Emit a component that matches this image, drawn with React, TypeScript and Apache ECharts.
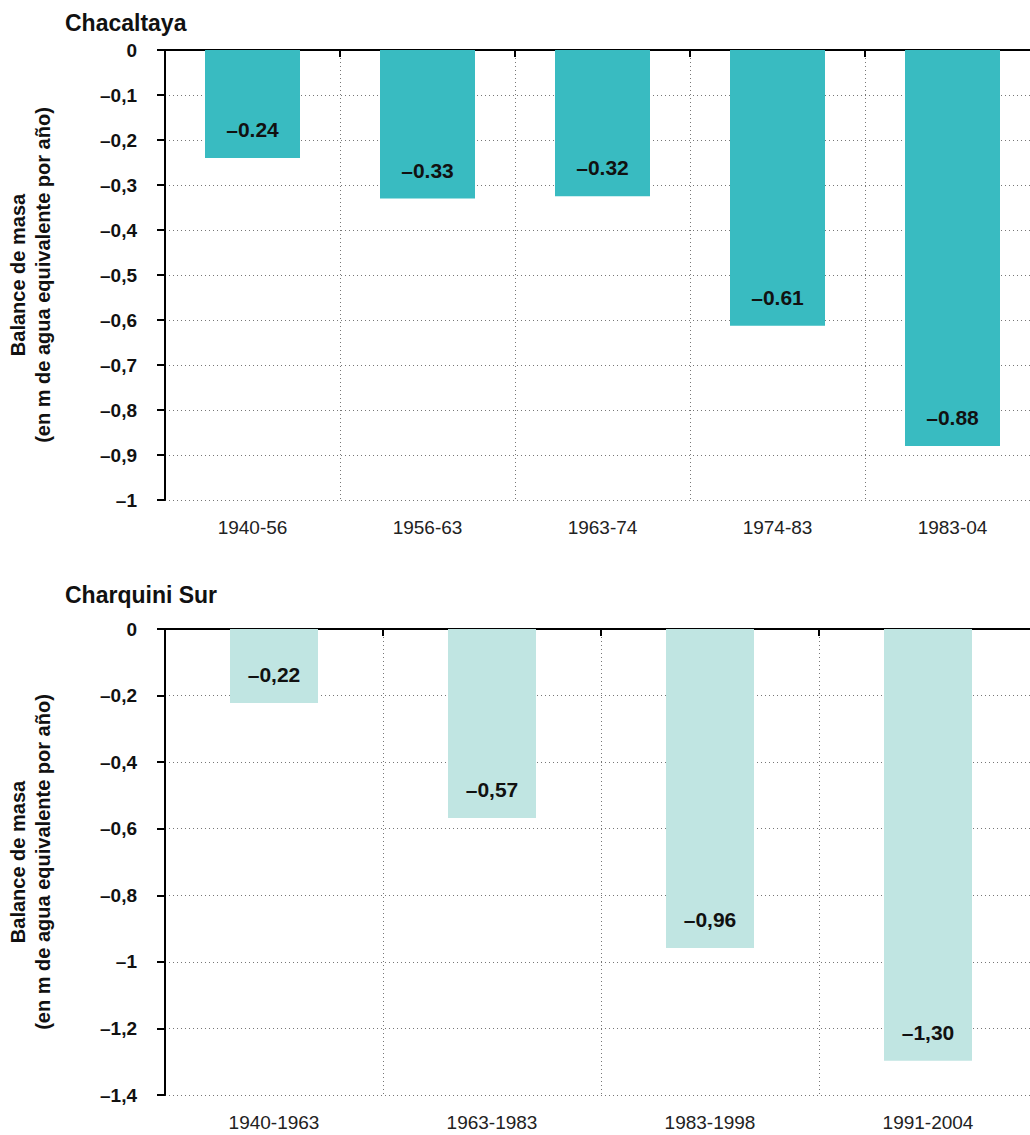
import React, { useEffect, useRef } from "react";
import * as echarts from "echarts";

const topTitle = "Chacaltaya";
const topCategories = ["1940-56", "1956-63", "1963-74", "1974-83", "1983-04"];
const topValues = [-0.24, -0.33, -0.325, -0.613, -0.88];
const topLabels = ["–0.24", "–0.33", "–0.32", "–0.61", "–0.88"];

const bottomTitle = "Charquini Sur";
const bottomCategories = ["1940-1963", "1963-1983", "1983-1998", "1991-2004"];
const bottomValues = [-0.222, -0.568, -0.958, -1.297];
const bottomLabels = ["–0,22", "–0,57", "–0,96", "–1,30"];

const yAxisName = "Balance de masa\n(en m de agua equivalente por año)";

const FONT = "'Liberation Sans', Arial, sans-serif";

function yFmt(v: number) {
  const r = Number(v.toFixed(1));
  if (r === 0) return "0";
  return "–" + String(Math.abs(r)).replace(".", ",");
}

export default function App() {
  const ref = useRef<HTMLDivElement>(null);
  useEffect(() => {
    if (!ref.current) return;
    const chart = echarts.init(ref.current, null, { renderer: "svg" });
    const dotted = { color: "#777", width: 1, type: [1, 3] as any };
    const mkY = (gridIndex: number, min: number, interval: number) => ({
      type: "value",
      gridIndex,
      min,
      max: 0,
      interval,
      name: yAxisName,
      nameLocation: "middle",
      nameGap: 110,
      nameRotate: 90,
      nameTextStyle: { fontFamily: FONT, fontWeight: "bold", fontSize: 20, color: "#111", lineHeight: 25 },
      axisLine: { show: true, lineStyle: { color: "#000", width: 2 } },
      axisTick: { show: true, length: 8, lineStyle: { color: "#000", width: 2 } },
      axisLabel: { margin: 28, fontFamily: FONT, fontWeight: "bold", fontSize: 19, color: "#111", formatter: yFmt },
      splitLine: { show: true, lineStyle: dotted },
    });
    const mkXBottom = (gridIndex: number, data: string[]) => ({
      type: "category",
      gridIndex,
      data,
      position: "bottom",
      axisLine: { show: true, lineStyle: { color: "#000", width: 2 } },
      axisTick: { show: false },
      axisLabel: { margin: 18, fontFamily: FONT, fontSize: 19, color: "#222" },
      splitLine: { show: true, lineStyle: dotted },
    });
    const mkXTop = (gridIndex: number, data: string[]) => ({
      type: "category",
      gridIndex,
      data,
      position: "top",
      axisLine: { show: true, lineStyle: { color: "#000", width: 2 } },
      axisTick: { show: true, inside: true, length: 7, lineStyle: { color: "#000", width: 2 } },
      axisLabel: { show: false },
      splitLine: { show: false },
    });
    const labelStyle = (labels: string[]) => ({
      show: true,
      position: "insideBottom",
      distance: 18,
      fontFamily: FONT,
      fontWeight: "bold",
      fontSize: 21,
      color: "#111",
      formatter: (p: any) => labels[p.dataIndex],
    });
    chart.setOption({
      animation: false,
      backgroundColor: "#fff",
      title: [
        { text: topTitle, left: 60, top: 6, textStyle: { fontFamily: FONT, fontWeight: "bold", fontSize: 23, color: "#111" } },
        { text: bottomTitle, left: 60, top: 578, textStyle: { fontFamily: FONT, fontWeight: "bold", fontSize: 23, color: "#111" } },
      ],
      grid: [
        { left: 165, top: 50, height: 450, right: -10, outerBoundsMode: "none", containLabel: false },
        { left: 165, top: 629, height: 466, right: -7, outerBoundsMode: "none", containLabel: false },
      ],
      xAxis: [
        mkXBottom(0, topCategories),
        mkXTop(0, topCategories),
        mkXBottom(1, bottomCategories),
        mkXTop(1, bottomCategories),
      ],
      yAxis: [mkY(0, -1, 0.1), mkY(1, -1.4, 0.2)],
      series: [
        {
          type: "bar",
          xAxisIndex: 0,
          yAxisIndex: 0,
          data: topValues,
          barWidth: 95,
          itemStyle: { color: "#39BBC1" },
          label: labelStyle(topLabels),
        },
        {
          type: "bar",
          xAxisIndex: 2,
          yAxisIndex: 1,
          data: bottomValues,
          barWidth: 88,
          itemStyle: { color: "#C0E5E2" },
          label: labelStyle(bottomLabels),
        },
      ],
    });
    return () => chart.dispose();
  }, []);
  return (
    <div
      ref={ref}
      style={{ position: "absolute", left: 0, top: 0, width: 1030, height: 1135 }}
    />
  );
}
